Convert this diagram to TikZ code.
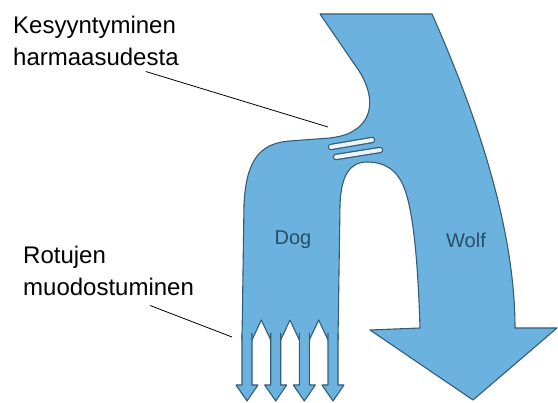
\documentclass[tikz,border=0pt]{standalone}
\usepackage{fontspec}
\setmainfont{Liberation Sans}
\definecolor{bandfill}{RGB}{108,178,222}
\definecolor{bandline}{RGB}{52,92,118}
\definecolor{bandtext}{RGB}{40,78,104}
\definecolor{stripefill}{RGB}{236,244,250}
\begin{document}
\begin{tikzpicture}[
  x=1pt, y=-1pt,
  every node/.style={inner sep=0pt},
  band/.style={fill=bandfill, draw=bandline, line width=1.1pt, line join=round},
  stripeout/.style={line width=6.5pt, draw=bandline, line cap=round},
  stripein/.style={line width=4pt, draw=stripefill, line cap=round},
  lbl/.style={font=\fontsize{24}{31.5}\selectfont, align=left, anchor=north west},
  inlbl/.style={font=\fontsize{20}{24}\selectfont, text=bandtext},
  leader/.style={line width=0.8pt, black}
]
\useasboundingbox (0,0) rectangle (558,403);

% Wolf and dog band
\draw[band] (320,14) -- (432,14)
  .. controls (470,100) and (515,220) .. (515,328)
  -- (557,328) -- (473,400) -- (370,330) -- (420,328)
  .. controls (418,260) and (413,212) .. (405,190)
  .. controls (398,170) and (385,162) .. (367,162)
  .. controls (350,162) and (341,175) .. (340,205)
  -- (338,340) -- (328,340) -- (318.7,320) -- (309.3,340) -- (299.3,340)
  -- (290,320) -- (280.7,340) -- (270.7,340) -- (261.3,320) -- (252,340)
  -- (242,340) -- (244,205)
  .. controls (246,160) and (260,143) .. (290,141)
  -- (330,138)
  .. controls (345,136) and (352,133) .. (360,126)
  .. controls (375,112) and (372,88) .. (355,65)
  -- cycle;

% Breed arrows
\foreach \cx in {247,275.7,304.3,333}
  \draw[band] (\cx-5,333) -- (\cx-5,385) -- (\cx-11,385) -- (\cx,401)
    -- (\cx+11,385) -- (\cx+5,385) -- (\cx+5,333);

% Stripes at the neck
\foreach \ya/\yb/\xa/\xb in {147/140/331/372, 157/150/336/380} {
  \draw[stripeout] (\xa,\ya) -- (\xb,\yb);
  \draw[stripein] (\xa,\ya) -- (\xb,\yb);
}

% Labels
\node[lbl] (domest) at (13,16) {Kesyyntyminen\\harmaasudesta};
\node[lbl] (breeds) at (23,246) {Rotujen\\muodostuminen};
\node[inlbl] (dog) at (293,240) {Dog};
\node[inlbl] (wolf) at (466,240) {Wolf};

\coordinate (neckpt) at (328,127);
\coordinate (forkpt) at (232,337);
\draw[leader] ([xshift=-33pt,yshift=-6pt]domest.south east) -- (neckpt);
\draw[leader] ([xshift=-44pt,yshift=-10pt]breeds.south east) -- (forkpt);
\end{tikzpicture}
\end{document}
